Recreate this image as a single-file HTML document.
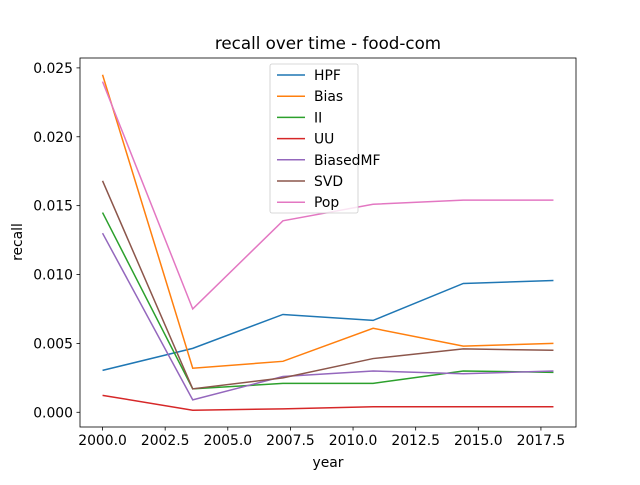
<!DOCTYPE html>
<html><head><meta charset="utf-8"><style>body{margin:0;background:#fff}svg{font-family:"DejaVu Sans","Liberation Sans",sans-serif}</style></head>
<body>
<svg id="c" width="640" height="480"></svg>
<script>
const years=[2000,2003.6,2007.2,2010.8,2014.4,2018];
const seriesNames=["HPF","Bias","II","UU","BiasedMF","SVD","Pop"];
const hpf=[0.00304,0.00464,0.0071,0.00667,0.00935,0.00957];
const bias=[0.0245,0.0032,0.0037,0.0061,0.0048,0.0050];
const ii=[0.0145,0.0017,0.0021,0.0021,0.0030,0.0029];
const uu=[0.00123,0.00015,0.00025,0.0004,0.0004,0.0004];
const biasedmf=[0.0130,0.0009,0.0026,0.0030,0.0028,0.0030];
const svd=[0.0168,0.0017,0.0025,0.0039,0.0046,0.0045];
const pop=[0.0240,0.0075,0.0139,0.0151,0.0154,0.0154];
const xTicks=[2000,2002.5,2005,2007.5,2010,2012.5,2015,2017.5];
const yTicks=[0,0.005,0.010,0.015,0.020,0.025];
const colors=["#1f77b4","#ff7f0e","#2ca02c","#d62728","#9467bd","#8c564b","#e377c2"];
const all=[hpf,bias,ii,uu,biasedmf,svd,pop];
const L=80,R=576,T=58,B=427;
const xmin=Math.min(...years),xmax=Math.max(...years),xm=(xmax-xmin)*0.05;
const flat=all.flat(),ymn=Math.min(...flat),ymx=Math.max(...flat),ym=(ymx-ymn)*0.05;
const X=v=>L+(v-(xmin-xm))/((xmax+xm)-(xmin-xm))*(R-L);
const Y=v=>B-(v-(ymn-ym))/((ymx+ym)-(ymn-ym))*(B-T);
const svg=document.getElementById('c');const NS="http://www.w3.org/2000/svg";
function el(t,a,p){const e=document.createElementNS(NS,t);for(const k in a)e.setAttribute(k,a[k]);(p||svg).appendChild(e);return e;}
let t=el('text',{x:328,y:49,'text-anchor':'middle','font-size':'16.7'});t.textContent="recall over time - food-com";


xTicks.forEach(v=>{const x=X(v);const l=el('line',{x1:x,x2:x,y1:B,y2:B+3.5,stroke:'#000','stroke-width':0.8});


const s=el('text',{x:x,y:B+18,'text-anchor':'middle','font-size':'13.9'});s.textContent=v.toFixed(1);

});
yTicks.forEach(v=>{const y=Y(v);const l=el('line',{x1:L-3.5,x2:L,y1:y,y2:y,stroke:'#000','stroke-width':0.8});


const s=el('text',{x:L-7,y:y+5,'text-anchor':'end','font-size':'13.9'});s.textContent=v.toFixed(3);

});
t=el('text',{x:328,y:467,'text-anchor':'middle','font-size':'13.9'});t.textContent="year";


t=el('text',{x:22,y:242,'text-anchor':'middle','font-size':'13.9',transform:'rotate(-90 22 242)'});t.textContent="recall";


all.forEach((s,i)=>{const p=el('polyline',{points:s.map((v,j)=>X(years[j])+','+Y(v)).join(' '),fill:'none',stroke:colors[i],'stroke-width':1.5});

});
const f=el('rect',{x:L,y:T,width:R-L,height:B-T,fill:'none',stroke:'#000','stroke-width':0.8});


const g=el('g',{});


el('rect',{x:270,y:64,width:88,height:149,rx:2,fill:'#fff','fill-opacity':0.8,stroke:'#ccc','stroke-width':0.8},g);
seriesNames.forEach((n,i)=>{const y=75+i*21.2;const e=el('g',{},g);


el('line',{x1:277,x2:305,y1:y,y2:y,stroke:colors[i],'stroke-width':1.5},e);
const s=el('text',{x:314,y:y+5,'font-size':'13.9'},e);s.textContent=n;});
</script>
</body></html>
